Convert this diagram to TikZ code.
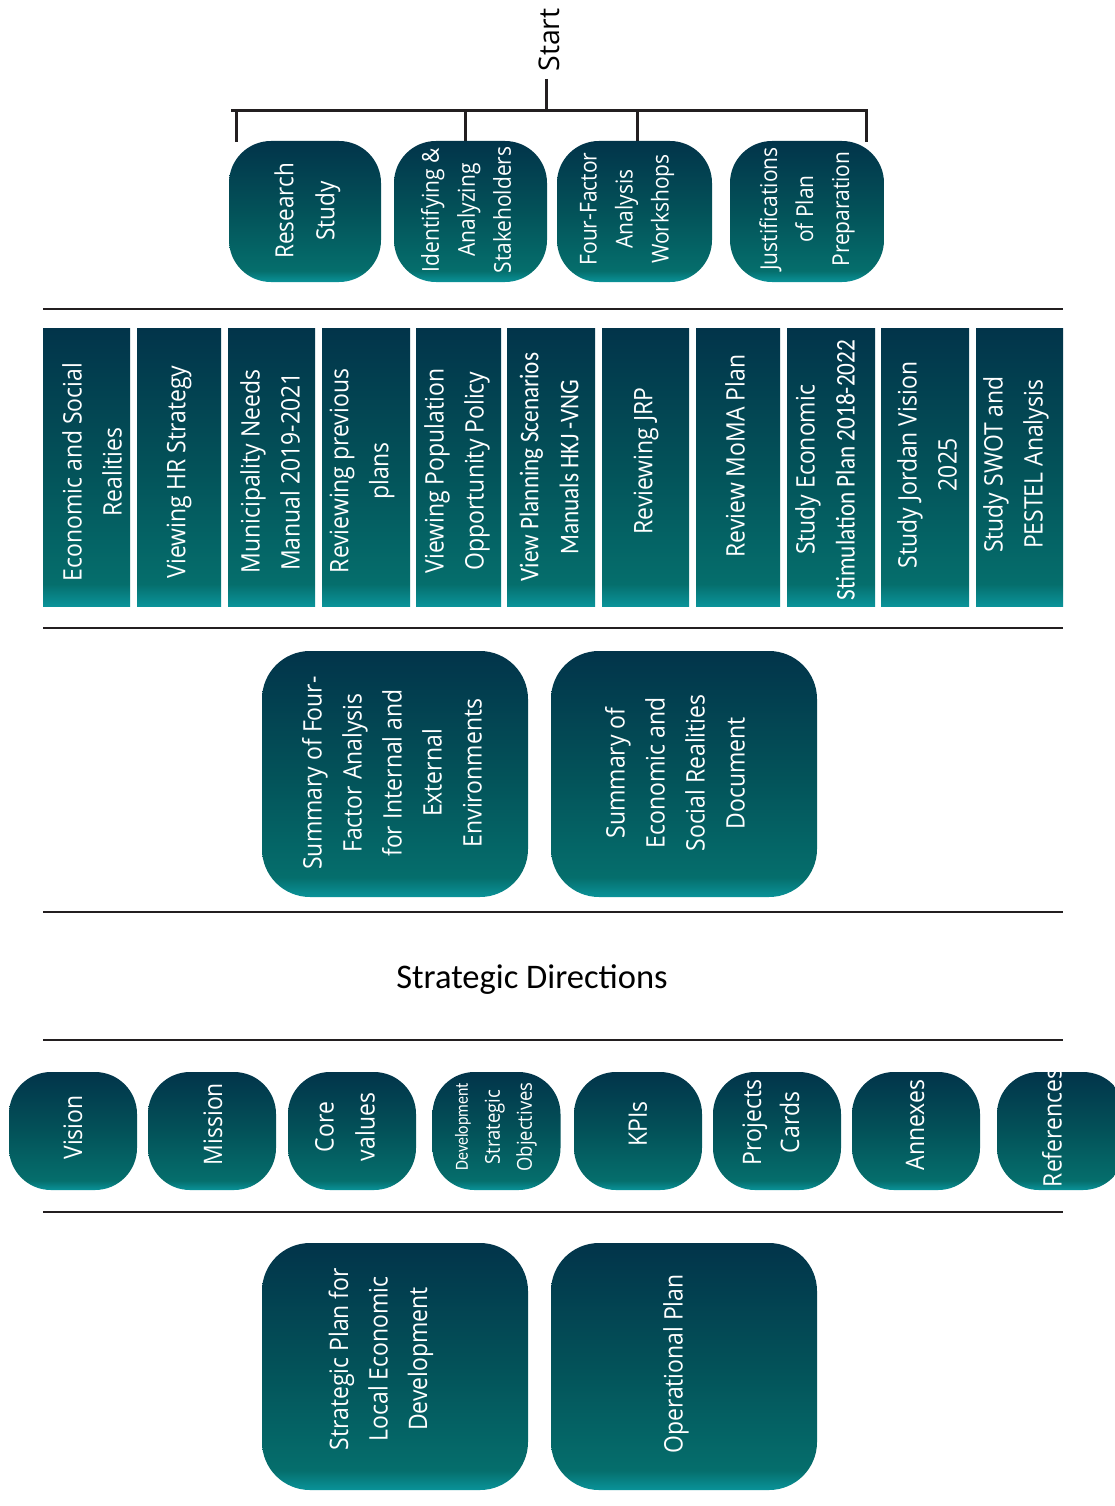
\documentclass[tikz,border=0pt]{standalone}
\usepackage{fontspec}
\setmainfont{Open Sans}[FakeStretch=0.9]
\newfontfamily\plainf{Open Sans}
\newfontfamily\condf{Carlito}[FakeStretch=0.86]
\newfontfamily\calf{Carlito}
\definecolor{gT}{HTML}{02344A}
\definecolor{gM}{HTML}{035259}
\definecolor{gC}{HTML}{056E6C}
\definecolor{gB}{HTML}{0A9399}
\definecolor{ink}{HTML}{231F20}
\pgfdeclareverticalshading{tealgrad}{100bp}{color(0bp)=(gB); color(25bp)=(gB); color(29bp)=(gC); color(50bp)=(gM); color(75bp)=(gT); color(100bp)=(gT)}
\tikzset{
  box/.style={shape=rectangle, shading=tealgrad, draw=none, inner sep=0pt},
  topbox/.style={box, minimum height=141pt, rounded corners=42pt},
  colbox/.style={box, minimum height=278pt},
  midbox/.style={box, minimum width=266pt, minimum height=246pt, rounded corners=48pt},
  rowbox/.style={box, minimum width=128pt, minimum height=118pt, rounded corners=42pt},
  lbl/.style={rotate=90, text=white, align=center, inner sep=0pt},
  f23/.style={font={\fontsize{25.5}{40}\selectfont}},
  conn/.style={draw=ink, line width=3pt},
  sepline/.style={draw=ink, line width=2.7pt},
}
\begin{document}
\begin{tikzpicture}[x=1pt,y=-1pt]
\path[use as bounding box] (0,0) rectangle (1115,1506);
\clip (0,0) rectangle (1115,1506);

% ---------- Start and bracket ----------
\node[rotate=90, inner sep=0pt, text=black, font={\fontsize{28.5}{34}\selectfont\plainf}] (start) at (549,40) {Start};
\coordinate (st) at (546,79);
\coordinate (sj) at (546,110.5);
\coordinate (hL) at (231,110.5);
\coordinate (hR) at (867.5,110.5);
\coordinate (c1) at (236,142);
\coordinate (c2) at (465,142);
\coordinate (c3) at (637,142);
\coordinate (c4) at (866,142);
\draw[conn] (st) -- (sj);
\draw[conn] (hL) -- (hR);
\draw[conn] (c1 |- hL) -- (c1);
\draw[conn] (c2 |- hL) -- (c2);
\draw[conn] (c3 |- hL) -- (c3);
\draw[conn] (c4 |- hL) -- (c4);

% ---------- top boxes ----------
\node[topbox, minimum width=152pt] (b1) at (305,211.5) {};
\node[topbox, minimum width=153pt] (b2) at (470.5,211.5) {};
\node[topbox, minimum width=155pt] (b3) at (634.5,211.5) {};
\node[topbox, minimum width=154pt] (b4) at (807,211.5) {};
\node[lbl, font={\fontsize{25}{41}\selectfont}] (t1) at (307.5,211) {Research\\Study};
\node[lbl, font={\fontsize{23.3}{36}\selectfont}] (t2) at (466,210) {Identifying \&\\Analyzing\\Stakeholders};
\node[lbl, font={\fontsize{23.3}{36}\selectfont}] (t3) at (627,209) {Four-Factor\\Analysis\\Workshops};
\node[lbl, font={\fontsize{23.3}{36}\selectfont}] (t4) at (807,209) {Justifications\\of Plan\\Preparation};

% ---------- separators ----------
\draw[sepline] (43,309) -- (1063,309);
\draw[sepline] (43,628) -- (1063,628);
\draw[sepline] (43,912) -- (1063,912);
\draw[sepline] (43,1040) -- (1063,1040);
\draw[sepline] (43,1212) -- (1063,1212);

% ---------- column boxes ----------
\node[colbox, minimum width=87pt] (k1) at (86.5,467) {};
\node[colbox, minimum width=84pt] (k2) at (179,467) {};
\node[colbox, minimum width=87pt] (k3) at (271.5,467) {};
\node[colbox, minimum width=88pt] (k4) at (366,467) {};
\node[colbox, minimum width=85pt] (k5) at (458.5,467) {};
\node[colbox, minimum width=88pt] (k6) at (551,467) {};
\node[colbox, minimum width=87pt] (k7) at (645.5,467) {};
\node[colbox, minimum width=84pt] (k8) at (738,467) {};
\node[colbox, minimum width=88pt] (k9) at (831,467) {};
\node[colbox, minimum width=88pt] (k10) at (925,467) {};
\node[colbox, minimum width=87pt] (k11) at (1019.5,467) {};
\node[lbl, f23] (q1) at (92,472) {Economic and Social\\Realities};
\node[lbl, f23] (q2) at (179,472) {Viewing HR Strategy};
\node[lbl, f23] (q3) at (270,471.5) {Municipality Needs\\Manual 2019-2021};
\node[lbl, f23] (q4) at (362,471) {Reviewing previous\\plans};
\node[lbl, f23] (q5) at (457,471) {Viewing Population\\Opportunity Policy};
\node[lbl, font={\fontsize{27}{40}\selectfont\condf}] (q6) at (549,467) {View Planning Scenarios\\Manuals HKJ -VNG};
\node[lbl, f23] (q7) at (646,461) {Reviewing JRP};
\node[lbl, f23] (q8) at (735,456) {Review MoMA Plan};
\node[lbl, f23] (q9) at (825,470) {Study Economic\\{\condf\fontsize{27}{40}\selectfont Stimulation Plan 2018-2022}};
\node[lbl, f23] (q10) at (927,465) {Study Jordan Vision\\2025};
\node[lbl, f23] (q11) at (1016,464.5) {Study SWOT and\\PESTEL Analysis};

% ---------- summary boxes ----------
\node[midbox] (mA) at (395,774) {};
\node[midbox] (mB) at (684,774) {};
\node[lbl, f23] (sa) at (392,773) {Summary of Four-\\Factor Analysis\\for Internal and\\External\\Environments};
\node[lbl, f23] (sb) at (675,773) {Summary of\\Economic and\\Social Realities\\Document};

% ---------- Strategic Directions ----------
\node[inner sep=0pt, anchor=base, text=black, font={\fontsize{34.5}{40}\selectfont\calf}] (sd) at (532,988) {Strategic Directions};

% ---------- row boxes ----------
\node[rowbox] (r1) at (73,1131) {};
\node[rowbox] (r2) at (212,1131) {};
\node[rowbox] (r3) at (352,1131) {};
\node[rowbox] (r4) at (496.5,1131) {};
\node[rowbox] (r5) at (638,1131) {};
\node[rowbox] (r6) at (777,1131) {};
\node[rowbox] (r7) at (916,1131) {};
\node[rowbox] (r8) at (1061,1131) {};
\node[lbl, f23] (v1) at (73,1127.5) {Vision};
\node[lbl, f23] (v2) at (213,1124) {Mission};
\node[lbl, font={\fontsize{25.5}{41}\selectfont}] (v3) at (345,1127) {Core\\values};
\node[lbl, font={\fontsize{20.5}{32}\selectfont}] (v4) at (496,1127) {{\condf\fontsize{18.5}{32}\selectfont Development}\\Strategic\\Objectives};
\node[lbl, f23] (v5) at (638,1124) {KPIs};
\node[lbl, font={\fontsize{25.5}{38}\selectfont}] (v6) at (771,1122.5) {Projects\\Cards};
\node[lbl, f23] (v7) at (915,1125) {Annexes};
\node[lbl, f23] (v8) at (1052,1128) {References};

% ---------- final boxes ----------
\node[midbox, minimum height=247pt] (pA) at (395,1366.5) {};
\node[midbox, minimum height=247pt] (pB) at (684,1366.5) {};
\node[lbl, font={\fontsize{25.5}{39.5}\selectfont}] (pa) at (381,1359) {Strategic Plan for\\Local Economic\\Development};
\node[lbl, f23] (pb) at (676,1364) {Operational Plan};
\end{tikzpicture}
\end{document}
